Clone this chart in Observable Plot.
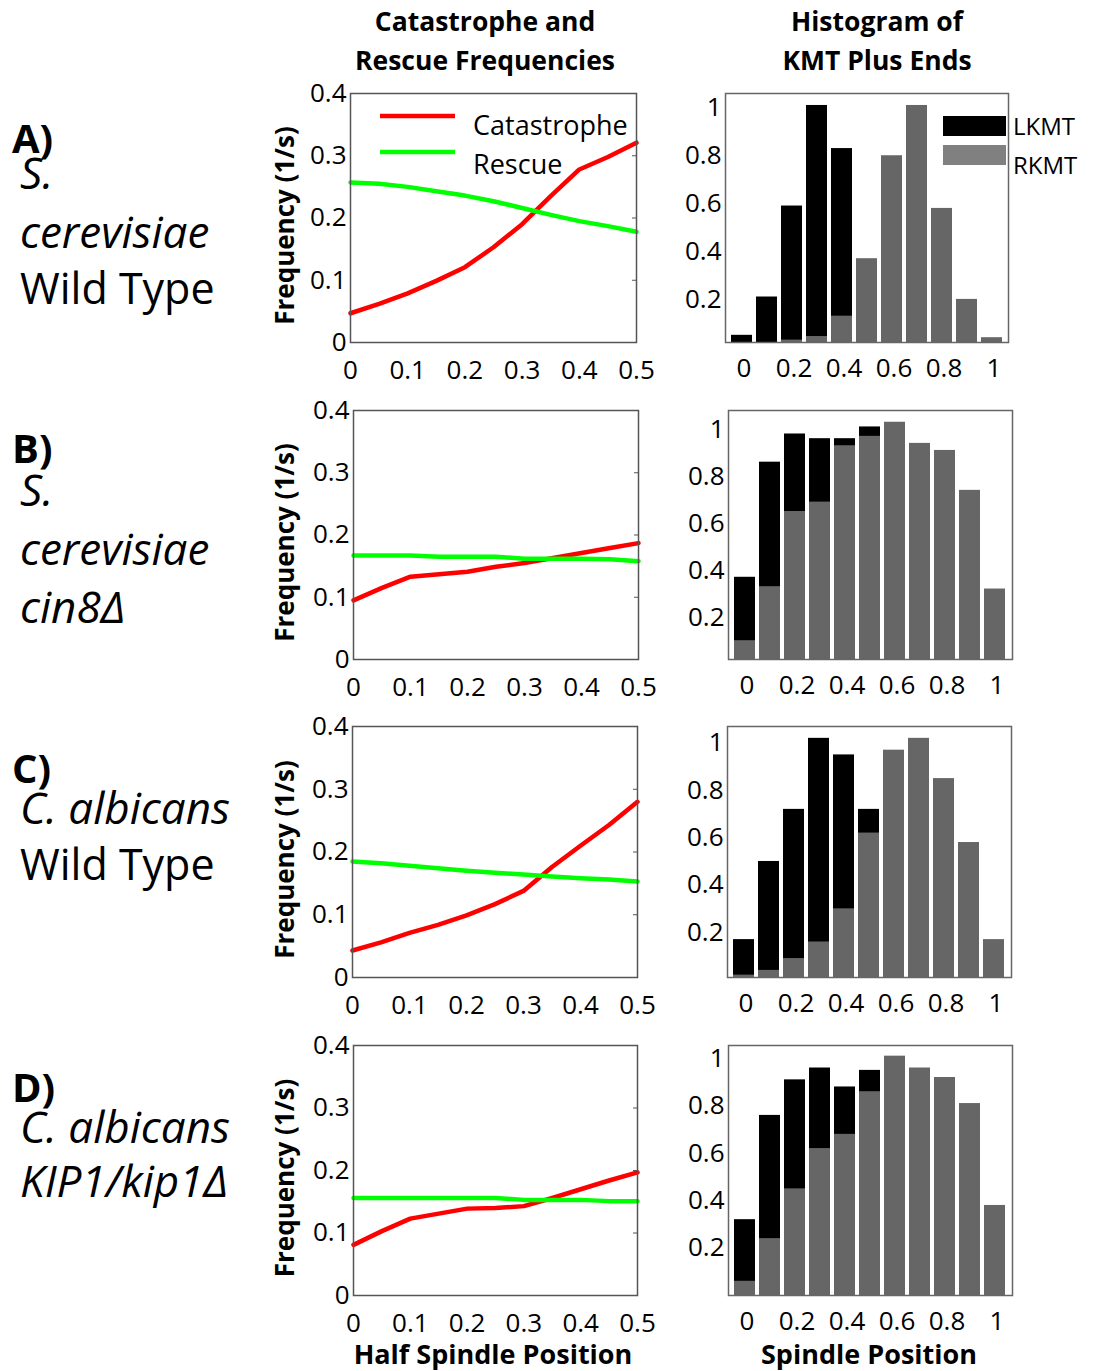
<!DOCTYPE html>
<html><head><meta charset="utf-8">
<script src="https://cdn.jsdelivr.net/npm/d3@7"></script>
<script src="https://cdn.jsdelivr.net/npm/@observablehq/plot@0.6"></script>
<style>
body{margin:0;background:#fff;}
#root{position:relative;width:1096px;height:1371px;overflow:hidden;background:#fff;font-family:"Open Sans",sans-serif;}
#root > div{position:absolute;}
</style></head><body><div id="root"></div>
<script>
// ---------- data ----------
const halfSpindle = [0, 0.05, 0.1, 0.15, 0.2, 0.25, 0.3, 0.35, 0.4, 0.45, 0.5];
const catastropheA = [0.047, 0.062, 0.079, 0.099, 0.121, 0.153, 0.190, 0.235, 0.278, 0.298, 0.321];
const rescueA      = [0.257, 0.255, 0.250, 0.243, 0.236, 0.227, 0.216, 0.205, 0.195, 0.187, 0.178];
const catastropheB = [0.095, 0.115, 0.133, 0.137, 0.141, 0.149, 0.155, 0.163, 0.171, 0.179, 0.187];
const rescueB      = [0.167, 0.167, 0.167, 0.165, 0.165, 0.165, 0.162, 0.162, 0.162, 0.161, 0.158];
const catastropheC = [0.043, 0.056, 0.071, 0.084, 0.099, 0.117, 0.138, 0.176, 0.210, 0.243, 0.280];
const rescueC      = [0.185, 0.182, 0.178, 0.174, 0.170, 0.167, 0.164, 0.161, 0.158, 0.156, 0.153];
const catastropheD = [0.081, 0.103, 0.123, 0.131, 0.139, 0.140, 0.143, 0.156, 0.170, 0.184, 0.197];
const rescueD      = [0.156, 0.156, 0.156, 0.156, 0.156, 0.156, 0.153, 0.153, 0.153, 0.151, 0.151];

const spindleBins = ["0","0.1","0.2","0.3","0.4","0.5","0.6","0.7","0.8","0.9","1"];
const lkmtA = [0.05, 0.21, 0.59, 1.01, 0.83, 0.34, 0.12, 0.04, 0.03, 0.00, 0.00];
const rkmtA = [0.00, 0.00, 0.03, 0.045, 0.13, 0.37, 0.80, 1.01, 0.58, 0.20, 0.04];
const lkmtB = [0.37, 0.86, 0.98, 0.96, 0.96, 1.01, 0.93, 0.69, 0.65, 0.33, 0.10];
const rkmtB = [0.10, 0.33, 0.65, 0.69, 0.93, 0.97, 1.03, 0.94, 0.91, 0.74, 0.32];
const lkmtC = [0.17, 0.50, 0.72, 1.02, 0.95, 0.72, 0.30, 0.16, 0.09, 0.04, 0.02];
const rkmtC = [0.02, 0.04, 0.09, 0.16, 0.30, 0.62, 0.97, 1.02, 0.85, 0.58, 0.17];
const lkmtD = [0.32, 0.76, 0.91, 0.96, 0.88, 0.95, 0.86, 0.68, 0.62, 0.45, 0.24];
const rkmtD = [0.06, 0.24, 0.45, 0.62, 0.68, 0.86, 1.01, 0.96, 0.92, 0.81, 0.38];

const freqTicks = [0, 0.1, 0.2, 0.3, 0.4];
const freqTickLabels = ["0", "0.1", "0.2", "0.3", "0.4"];
const halfTicks = [0, 0.1, 0.2, 0.3, 0.4, 0.5];
const halfTickLabels = ["0", "0.1", "0.2", "0.3", "0.4", "0.5"];
const histYTicks = [0.2, 0.4, 0.6, 0.8, 1];
const histYTickLabels = ["0.2", "0.4", "0.6", "0.8", "1"];
const histXTicks = ["0", "0.2", "0.4", "0.6", "0.8", "1"];

const seriesNames = ["Catastrophe", "Rescue"];
const histNames = ["LKMT", "RKMT"];
const rowLetters = ["A)", "B)", "C)", "D)"];

// ---------- layout ----------
const FONT = "Open Sans";
const rows = [
  {cat: catastropheA, res: rescueA, lk: lkmtA, rk: rkmtA, top: 93, bottom: 342, lL: 350, lR: 636, hL: 725, hR: 1008, hDom: [0.02, 1.06]},
  {cat: catastropheB, res: rescueB, lk: lkmtB, rk: rkmtB, top: 410, bottom: 659, lL: 353, lR: 638, hL: 728, hR: 1012, hDom: [0.02, 1.08]},
  {cat: catastropheC, res: rescueC, lk: lkmtC, rk: rkmtC, top: 726, bottom: 977, lL: 352, lR: 637, hL: 727, hR: 1011, hDom: [0.01, 1.07]},
  {cat: catastropheD, res: rescueD, lk: lkmtD, rk: rkmtD, top: 1045, bottom: 1295, lL: 353, lR: 637, hL: 728, hR: 1012, hDom: [0.00, 1.055]}
];
const root = document.getElementById("root");
function place(node, x, y) {
  const d = document.createElement("div");
  d.style.left = x + "px"; d.style.top = y + "px";
  d.appendChild(node); root.appendChild(d);
}
const baseStyle = {fontFamily: FONT, fontSize: "26px", color: "#000", background: "transparent", overflow: "visible"};

rows.forEach(r => {
  // line chart
  const mL = 80, mR = 40, mT = 20, mB = 50;
  const w = mL + (r.lR - r.lL) + mR, h = mT + (r.bottom - r.top) + mB;
  const catData = halfSpindle.map((x, i) => ({x, y: r.cat[i]}));
  const resData = halfSpindle.map((x, i) => ({x, y: r.res[i]}));
  const lp = Plot.plot({
    width: w, height: h, marginLeft: mL, marginRight: mR, marginTop: mT, marginBottom: mB,
    x: {domain: [0, 0.5]}, y: {domain: [0, 0.4]},
    style: baseStyle,
    marks: [
      Plot.lineY(catData, {x: "x", y: "y", stroke: "#ff0000", strokeWidth: 4.5}),
      Plot.lineY(resData, {x: "x", y: "y", stroke: "#00ff00", strokeWidth: 4.5}),
      Plot.frame({stroke: "#555", strokeWidth: 1.5}),
      Plot.axisX({ticks: halfTicks, tickFormat: d => halfTickLabels[halfTicks.indexOf(d)], tickSize: 0, tickPadding: 18, label: null}),
      Plot.axisY({ticks: freqTicks, tickFormat: d => freqTickLabels[freqTicks.indexOf(d)], tickSize: 0, tickPadding: 4, label: null}),
      Plot.axisY({anchor: "right", ticks: freqTicks.slice(1, 4), tickSize: -5, tickFormat: () => "", label: null, stroke: "#555"})
    ]
  });
  place(lp, r.lL - mL, r.top - mT);

  // histogram
  const hmL = 47, hmR = 40, hmT = 20, hmB = 50;
  const hw = hmL + (r.hR - r.hL) + hmR;
  const hd = spindleBins.map((b, i) => ({b, lk: r.lk[i], rk: r.rk[i]}));
  const hp = Plot.plot({
    width: hw, height: h, marginLeft: hmL, marginRight: hmR, marginTop: hmT, marginBottom: hmB,
    x: {type: "band", domain: spindleBins, paddingInner: 0.15, paddingOuter: 0.05},
    y: {domain: r.hDom},
    style: baseStyle,
    marks: [
      Plot.barY(hd, {x: "b", y: "lk", fill: "#000", clip: true}),
      Plot.barY(hd, {x: "b", y: "rk", fill: "#666", clip: true}),
      Plot.frame({stroke: "#666", strokeWidth: 1.5}),
      Plot.axisX({ticks: histXTicks, tickSize: 0, tickPadding: 16, label: null, dx: 2}),
      Plot.axisY({ticks: histYTicks, tickFormat: d => histYTickLabels[histYTicks.indexOf(d)], tickSize: 0, tickPadding: 4, label: null})
    ]
  });
  place(hp, r.hL - hmL, r.top - hmT);
});

// ---------- text overlay ----------
const svg = d3.select(root).append("svg")
  .attr("width", 1096).attr("height", 1371)
  .style("position", "absolute").style("left", 0).style("top", 0)
  .style("font-family", FONT);
function txt(x, y, s, o = {}) {
  const t = svg.append("text").attr("x", x).attr("y", y).text(s)
    .attr("font-size", o.size || 26).attr("font-weight", o.weight || 400)
    .attr("font-style", o.style || "normal").attr("text-anchor", o.anchor || "start")
    .attr("fill", "#000");
  if (o.rotate) t.attr("transform", `rotate(${o.rotate},${x},${y})`).attr("dominant-baseline", "middle");
  return t;
}
// column titles
txt(485, 31, "Catastrophe and", {weight: 700, anchor: "middle", size: 26.5});
txt(485, 70, "Rescue Frequencies", {weight: 700, anchor: "middle", size: 26.5});
txt(877, 31, "Histogram of", {weight: 700, anchor: "middle", size: 26.5});
txt(877, 70, "KMT Plus Ends", {weight: 700, anchor: "middle", size: 26.5});
// bottom axis titles
txt(493, 1364, "Half Spindle Position", {weight: 700, anchor: "middle", size: 27});
txt(869, 1364, "Spindle Position", {weight: 700, anchor: "middle", size: 27});
// rotated y titles
rows.forEach(r => txt(287, (r.top + r.bottom) / 2 + 8, "Frequency (1/s)", {weight: 700, anchor: "middle", rotate: -90, size: 26}));

// row labels
const rowText = [
  [[rowLetters[0], 153, "b"], ["S.", 189, "i"], ["cerevisiae", 248, "i"], ["Wild Type", 304, "n"]],
  [[rowLetters[1], 463, "b"], ["S.", 506, "i"], ["cerevisiae", 565, "i"], ["cin8Δ", 623, "i"]],
  [[rowLetters[2], 783, "b"], ["C. albicans", 824, "i"], ["Wild Type", 880, "n"]],
  [[rowLetters[3], 1102, "b"], ["C. albicans", 1143, "i"], ["KIP1/kip1Δ", 1197, "i"]]
];
rowText.forEach(lines => lines.forEach(([s, y, k]) => {
  if (k === "b") txt(12, y, s, {weight: 700, size: 40});
  else if (k === "i") txt(20, y, s, {size: 44, style: "italic"});
  else txt(20, y, s, {size: 43});
}));

// legend: line chart (panel A)
const lineColors = ["#ff0000", "#00ff00"];
seriesNames.forEach((n, i) => {
  const y = 116 + i * 36;
  svg.append("line").attr("x1", 380).attr("x2", 455).attr("y1", y).attr("y2", y)
    .attr("stroke", lineColors[i]).attr("stroke-width", 4.5);
  txt(473, y + 19 + i * 3, n, {size: 27});
});
// legend: histogram (panel A)
const barColors = ["#000", "#808080"];
histNames.forEach((n, i) => {
  const y = 116 + i * 29;
  svg.append("rect").attr("x", 943).attr("y", y).attr("width", 63).attr("height", 20).attr("fill", barColors[i]);
  txt(1013, y + 19 + i * 10, n, {size: 24});
});
</script></body></html>
